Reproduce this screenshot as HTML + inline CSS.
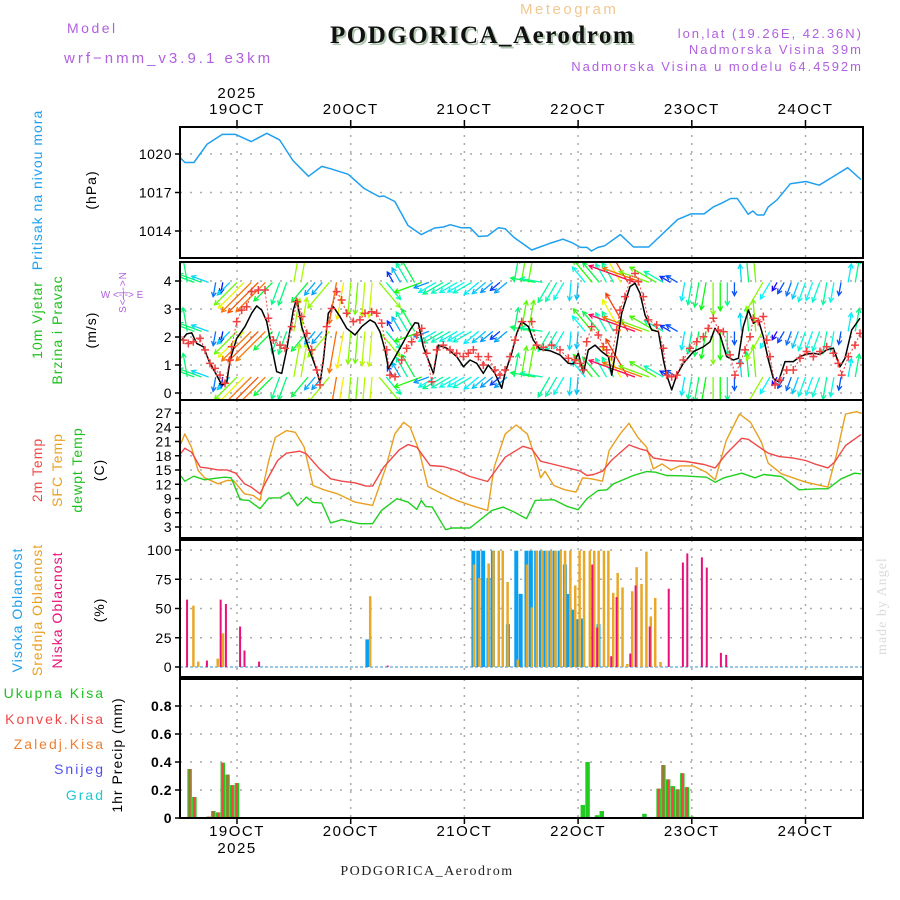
<!DOCTYPE html>
<html><head><meta charset="utf-8">
<style>
body{margin:0;background:#fff;}
svg{display:block;font-family:"Liberation Sans",sans-serif;}
.tk{font-size:14px;fill:#000;letter-spacing:0.5px}
</style></head>
<body>
<svg id="c" width="900" height="900" viewBox="0 0 900 900">
<rect width="900" height="900" fill="#fff"/>
<text x="67" y="33" font-size="14" fill="#b060e0" letter-spacing="2.5">Model</text>
<text x="64" y="63" font-size="15" fill="#b060e0" letter-spacing="3">wrf−nmm_v3.9.1 e3km</text>
<text x="520" y="14" font-size="15" fill="#f0c890" letter-spacing="2.5">Meteogram</text>
<text x="332" y="45" font-size="25" font-weight="bold" font-family="Liberation Serif, serif" fill="#b0c8b0" letter-spacing="1.5">PODGORICA_Aerodrom</text>
<text x="330" y="43" font-size="25" font-weight="bold" font-family="Liberation Serif, serif" fill="#111" letter-spacing="1.5">PODGORICA_Aerodrom</text>
<text x="863" y="38" font-size="13" fill="#b060e0" text-anchor="end" letter-spacing="2">lon,lat (19.26E, 42.36N)</text>
<text x="863" y="54" font-size="13" fill="#b060e0" text-anchor="end" letter-spacing="2">Nadmorska Visina 39m</text>
<text x="863" y="71" font-size="13" fill="#b060e0" text-anchor="end" letter-spacing="2">Nadmorska Visina u modelu 64.4592m</text>
<text x="237" y="98" font-size="15" text-anchor="middle" letter-spacing="1.5">2025</text>
<text x="427" y="875" font-size="14" font-family="Liberation Serif, serif" text-anchor="middle" fill="#222" letter-spacing="1.5">PODGORICA_Aerodrom</text>
<text x="237" y="853" font-size="15" text-anchor="middle" letter-spacing="1.5">2025</text>
<text transform="translate(886,655) rotate(-90)" font-size="14" font-family="Liberation Serif, serif" fill="#d8ddd8" letter-spacing="1">made by Angel</text>
</svg>
<script>
// ---------- DATA ----------
const dayLabels=["19OCT","20OCT","21OCT","22OCT","23OCT","24OCT"];
const presT=[-11.9,-11,-9.1,-6.3,-3.1,-0.3,3,6.3,9,11.8,15.1,17.9,19.8,23.5,26.8,30,31,33.3,36.1,38.9,41.7,43.6,45,47.3,49.2,51,52.9,55.2,56.6,58.5,62.2,66,68.8,70.6,72.5,73.9,74.8,76.2,77.6,80.9,83.7,86.9,93,95.8,98.6,100.5,102.3,104.2,105.6,107,107.9,108.9,109.8,111.2,112.1,114,116.8,120.1,122.9,125.2,128.9,131.7];
const presV=[1019.69,1019.34,1019.34,1020.77,1021.53,1021.53,1020.97,1021.61,1021.1,1019.49,1018.26,1019.03,1018.85,1018.42,1017.32,1016.68,1016.73,1016.3,1014.43,1013.72,1014.23,1014.31,1014.49,1014.26,1014.26,1013.57,1013.62,1014.26,1014.18,1013.49,1012.52,1013.03,1013.36,1013.11,1012.72,1012.72,1012.44,1012.72,1012.85,1013.72,1012.75,1012.75,1014.89,1015.33,1015.33,1015.86,1016.17,1016.53,1016.53,1015.79,1015.3,1015.56,1015.25,1015.25,1015.86,1016.43,1017.68,1017.86,1017.57,1018.09,1018.93,1018.01];
const presTicks=[1014,1017,1020];

const speedT=[-11.68,-10.62,-9.57,-8.51,-7.1,-5.7,-4.29,-3.24,-2.18,-1.48,-0.07,1.69,3.1,4.15,5.21,6.26,7.32,8.37,9.43,10.49,11.89,12.6,13.65,15.06,16.82,17.52,18.23,19.28,20.34,21.74,23.15,24.91,26.32,28.07,29.13,30.19,31.24,31.95,33,34.76,36.52,37.57,38.28,39.33,40.39,41.45,42.5,44.26,46.37,47.78,49.18,50.59,51.99,53.05,54.46,55.87,56.57,57.98,59.03,60.09,61.5,62.55,63.96,66.07,68.18,69.94,71,72.05,73.11,74.16,75.57,76.98,78.39,79.09,80.14,81.2,82.96,84.01,85.07,86.13,87.53,88.94,90,90.7,91.75,92.81,94.22,96.33,98.44,99.85,100.9,101.96,103.36,104.77,105.83,106.88,107.94,108.99,110.05,111.1,112.16,113.21,114.27,115.68,117.43,118.84,120.25,121.66,123.06,124.47,125.88,127.29,128.34,129.75,131.51];
const speedV=[1.89,2.11,2.15,1.77,1.65,1.06,0.64,0.29,0.35,1.18,1.95,2.37,2.85,3.11,2.96,2.55,1.65,0.76,0.7,1.54,2.96,3.38,2.37,1.65,0.82,0.35,1.18,2.85,3.08,2.73,2.31,2.07,2.37,2.61,2.51,2.19,1.54,0.88,1.18,1.71,2.25,2.51,2.49,1.65,1.18,0.7,1.71,1.6,1.3,0.94,1.18,1.06,0.7,1.0,0.7,0.17,0.7,1.42,2.13,2.55,2.37,1.89,1.56,1.51,1.36,1.06,1.04,1.42,0.7,1.54,1.71,1.48,1.3,0.64,1.71,2.85,3.8,3.92,3.56,2.79,2.25,2.19,1.18,0.64,0.11,0.64,1.06,1.48,1.65,1.83,2.31,2.07,1.3,1.18,1.24,2.37,2.96,2.49,2.61,2.01,1.18,0.52,0.4,1.12,1.12,1.3,1.39,1.42,1.38,1.54,1.6,0.94,1.24,2.25,2.67];
const gustT=[-11.33,-10.27,-9.22,-7.81,-6.75,-5.7,-4.64,-3.59,-2.53,-1.48,-1.12,-0.07,0.99,2.04,3.1,4.5,5.91,6.62,7.67,9.08,10.13,11.54,12.6,13.65,14.71,15.76,16.82,17.52,18.93,19.98,21.04,22.09,23.15,24.56,25.96,27.02,28.43,29.48,30.54,31.59,32.3,33.35,34.76,35.81,36.87,37.93,38.98,40.04,41.09,42.15,43.55,44.96,46.37,47.78,48.83,49.89,50.94,51.99,53.05,54.46,55.51,56.57,57.63,58.68,60.09,62.2,63.26,64.67,66.42,68.18,69.94,71.35,72.41,73.11,73.81,74.87,76.27,77.33,78.03,79.09,80.14,80.85,81.9,82.96,84.01,84.72,85.77,86.83,88.59,90,90.7,91.75,92.81,94.22,95.62,97.03,98.44,99.49,100.55,101.6,102.66,104.07,105.12,106.18,107.23,108.29,108.99,110.05,111.1,111.81,112.51,113.57,114.62,116.03,117.43,118.84,120.25,121.66,123.06,124.47,125.88,126.93,127.64,129.04,130.45,131.51];
const gustV=[1.89,1.77,1.83,1.95,1.54,1.06,0.88,0.64,0.35,1.18,1.65,2.55,2.96,3.08,3.62,3.68,3.68,2.67,1.89,1.71,1.6,2.37,3.26,2.73,2.13,1.54,0.82,0.29,2.37,3.02,3.62,3.32,2.85,2.55,2.61,2.85,2.9,2.85,2.49,1.54,0.64,0.58,1.18,1.6,1.83,2.07,2.31,1.42,0.4,1.54,1.71,1.54,1.42,1.3,1.42,1.54,1.3,1.0,1.3,0.82,0.64,0.82,1.3,1.89,2.55,2.55,1.71,1.63,1.71,1.54,1.24,1.18,1.06,0.82,1.83,2.37,2.07,1.65,1.54,1.3,2.25,2.96,3.44,4.04,4.27,3.98,3.44,2.61,2.43,1.6,0.64,0.58,0.64,1.18,1.6,1.83,2.01,2.31,2.67,2.25,2.19,1.36,0.64,1.06,1.54,2.01,2.67,2.55,2.73,1.89,1.3,0.29,0.46,0.82,0.82,1.24,1.48,1.3,1.48,1.65,1.42,1.06,0.64,1.3,1.71,2.13];
const windDirT=[-12,-9,-5,-2,8,11,14,20,24,30,33,38,42,50,58,62,66,70,73,78,84,88,94,100,106,110,116,124,128,133];
const windDir=[350,290,190,225,200,10,220,190,185,140,330,250,240,230,10,280,210,185,320,330,290,300,190,180,355,210,200,190,10,10];
const windTicks=[0,1,2,3,4];

const t2T=[-11.94,-11.01,-9.61,-7.75,-6.35,-4.01,-2.15,-0.28,1.58,2.98,4.85,6.25,8.58,10.44,13.24,14.64,17.44,19.77,22.11,24.9,27.24,28.63,30.97,34.23,36.1,37.96,40.76,43.56,46.36,49.16,52.89,56.62,60.35,62.22,64.08,67.81,71.55,72.48,73.88,75.28,77.14,79.01,82.74,85.07,86.47,87.87,91.13,94.87,98.6,100.93,103.26,106.53,107.93,109.79,112.12,114.46,117.26,120.05,121.92,124.72,126.12,128.45,131.71];
const t2V=[18.39,19.58,18.74,15.59,15.45,15.03,15.03,14.33,12.09,11.39,9.99,12.79,16.99,18.53,18.95,18.39,15.24,13.14,12.65,12.3,11.6,11.6,15.59,19.23,20.35,19.79,15.94,15.73,14.89,13.63,12.58,17.69,20.0,19.44,16.85,15.94,15.03,14.75,13.84,14.05,14.75,16.99,20.28,19.44,19.09,17.55,16.99,16.78,16.15,15.45,18.39,21.68,21.47,20.14,18.53,17.83,17.55,16.99,16.29,15.45,16.64,20.14,22.45];
const sfcT=[-11.94,-11.01,-9.61,-8.21,-6.81,-4.01,-2.15,-0.75,1.58,3.45,4.85,6.71,8.11,10.44,12.31,14.18,16.04,18.37,21.17,24.9,28.63,31.43,33.3,35.16,36.56,38.43,40.3,42.63,46.36,50.09,52.89,54.29,56.62,58.95,61.28,63.15,64.08,65.01,66.88,69.21,71.55,72.94,74.81,77.14,78.54,80.87,82.74,84.61,86.47,87.87,89.73,91.6,93.47,96.27,99.06,100.93,103.26,106.06,108.39,110.72,112.12,114.92,120.05,124.72,126.58,128.45,130.78,131.71];
const sfcV=[20.28,22.59,19.79,14.89,13.35,12.09,12.79,12.79,9.99,9.64,8.59,16.99,21.89,23.29,22.94,19.79,11.74,10.83,9.99,8.24,7.54,15.59,22.59,25.04,23.99,19.09,11.53,10.34,8.59,7.34,6.5,15.59,22.59,24.48,22.59,16.99,13.35,14.75,11.74,10.83,10.34,13.35,13.14,12.65,19.09,22.59,24.83,21.89,19.79,15.24,16.29,15.03,15.87,15.87,14.54,12.93,21.19,26.79,25.04,20.84,16.43,14.19,12.44,11.39,18.39,26.79,27.28,26.93];
const dewT=[-11.94,-11.01,-9.14,-6.81,-5.41,-2.61,-1.22,0.65,2.52,4.85,6.71,9.04,10.91,12.78,14.64,16.04,17.91,19.77,22.11,25.84,28.63,30.5,33.76,36.1,37.96,38.9,39.83,41.23,44.03,45.43,49.16,53.82,56.16,58.49,61.1,62.96,66.88,69.68,72.01,73.88,76.21,78.07,79.47,83.67,86.47,88.34,90.67,93.94,99.06,100.93,102.8,106.53,109.33,111.19,114.92,118.65,122.38,124.72,127.52,130.32,131.71];
const dewV=[13.84,12.65,13.7,12.93,13.14,13.49,13.35,8.74,8.6,6.85,9.08,9.15,10.27,7.48,9.29,8.17,8.03,3.84,4.54,3.7,3.7,6.5,8.95,8.25,6.71,8.6,7.34,7.2,2.44,2.79,2.79,6.5,7.2,6.15,4.75,8.6,8.74,7.34,6.64,8.95,10.69,10.83,12.09,13.84,14.68,14.54,13.84,13.77,13.49,12.44,13.35,14.33,13.35,14.05,13.63,10.83,11.04,11.04,13.14,14.33,14.19];
const tempTicks=[3,6,9,12,15,18,21,24,27];

const lowCloudT=[-10.54,-6.35,-3.45,-2.34,0.65,1.58,4.66,31.81,75.0,76.02,79.0,80.13,83.02,84.14,87.12,91.13,94.12,95.05,98.13,99.16,102.14,103.26];
const lowCloudV=[57.6,5.5,57.6,53.9,34.6,14.1,4.6,1.2,87.6,33.7,9.2,59.7,11.5,69.7,34.6,66.9,89.3,97.1,93.7,85.0,12.1,10.4];
const midCloudT=[-9.52,-8.49,-4.39,-3.27,27.8,49.72,50.84,52.8,53.82,54.94,55.78,56.8,58.95,60.91,61.94,62.96,64.08,65.01,65.95,66.88,67.99,68.93,70.05,71.08,72.0,72.94,74.16,75.09,76.02,77.14,78.07,79.1,80.03,81.06,82.08,83.11,84.04,85.07,86.1,87.03,87.96,89.08];
const midCloudV=[52.4,4.6,7.2,28.8,60.5,87.6,76.1,88.5,99.4,99.4,99.4,72.6,6.3,87.6,51.0,99.4,99.4,99.4,99.4,99.4,99.4,99.4,99.4,69.7,99.4,99.4,99.4,99.4,99.4,99.4,99.4,63.4,80.4,68.0,2.6,64.8,85.3,70.9,98.6,43.2,59.0,4.3];
const highCloudT=[27.52,49.9,50.93,51.96,53.08,54.01,57.18,58.95,59.88,61.1,62.03,63.15,64.17,65.11,66.13,67.07,68.09,69.21,69.87,70.8,71.92,73.04,76.3];
const highCloudV=[23.6,99.4,99.4,99.4,76.1,99.4,36.6,99.4,62.5,99.4,99.4,99.4,99.4,99.4,99.4,99.4,99.4,87.6,62.5,49.0,40.9,41.5,36.6];
const cloudTicks=[0,25,50,75,100];

const precipT=[-10,-9,-6,-5,-4,-3,-2,-1,0,73,74,76,77,86,89,90,91,92,93,94,95,96];
const precipTotal=[0.35,0.15,0.01,0.05,0.04,0.395,0.31,0.235,0.25,0.093,0.40,0.02,0.05,0.03,0.21,0.378,0.276,0.228,0.205,0.32,0.22,0.01];
const precipConv=[0.35,0.15,0.01,0.05,0.04,0.395,0.31,0.235,0.25,0,0,0,0,0,0.21,0.378,0.276,0.22,0.205,0.32,0.22,0];
const precipTicks=[0,0.2,0.4,0.6,0.8];

// ---------- DRAW ----------
const svg=document.getElementById('c');
const NS='http://www.w3.org/2000/svg';
const X0=180,X1=863;
function xs(t){return 237+t*113.7/24;}
function mk(tag,attrs,parent){const e=document.createElementNS(NS,tag);for(const k in attrs)e.setAttribute(k,attrs[k]);(parent||svg).appendChild(e);return e;}
function lin(v0,v1,y0,y1){return v=>y0+(v-v0)*(y1-y0)/(v1-v0);}
const panels={
 pres:{top:127,bot:258,y:lin(1020,1014,154,231)},
 wind:{top:262,bot:400,y:lin(0,4,393,281)},
 temp:{top:400,bot:538,y:lin(27,3,413,527)},
 cloud:{top:540,bot:677,y:lin(100,0,550,667)},
 prec:{top:679,bot:818,y:lin(0,0.8,818,706)}
};
function grid(p,ticks,fmt,name){
 const g=mk('g',{});
 
 
 for(let d=0;d<dayLabels.length;d++){
  const x=xs(d*24);
  const l=mk('line',{x1:x,x2:x,y1:p.top,y2:p.bot,stroke:'#aaa','stroke-width':1.5,'stroke-dasharray':'2,6'},g);
  
  
 }
 ticks.forEach(v=>{
  const y=p.y(v);
  const l=mk('line',{x1:X0,x2:X1,y1:y,y2:y,stroke:'#aaa','stroke-width':1.5,'stroke-dasharray':'2,8'},g);
  
  
  mk('line',{x1:X0-5,x2:X0,y1:y,y2:y,stroke:'#000','stroke-width':1.5},g);
  const tx=mk('text',{x:X0-8,y:y+5,'text-anchor':'end','class':'tk','font-weight':name==='precip'?'bold':'normal'},g);
  tx.textContent=fmt(v);
  
  
 });
}
function frame(p,name){
 const r=mk('rect',{x:X0,y:p.top,width:X1-X0,height:p.bot-p.top,fill:'none',stroke:'#000','stroke-width':2});
 
 
}
function clip(p,id){const c=mk('clipPath',{id:id});mk('rect',{x:X0,y:p.top,width:X1-X0,height:p.bot-p.top},c);return 'url(#'+id+')';}
function line(p,T,V,color,name,w){
 const d=T.map((t,i)=>(i?'L':'M')+xs(t).toFixed(1)+','+p.y(V[i]).toFixed(1)).join('');
 const e=mk('path',{d:d,fill:'none',stroke:color,'stroke-width':w||1.5,'stroke-linejoin':'round'});
 
 
 return e;
}
function interp(T,V,t){if(t<=T[0])return V[0];for(let i=1;i<T.length;i++){if(t<=T[i]){const f=(t-T[i-1])/(T[i]-T[i-1]);return V[i-1]+f*(V[i]-V[i-1]);}}return V[V.length-1];}
function dirAt(t){let d=windDir[0];for(let i=0;i<windDirT.length;i++){if(t>=windDirT[i])d=windDir[i];}return d;}

dayLabels.forEach((lab,i)=>{
 const x=xs(i*24);
 const a=mk('text',{x:x,y:114,'text-anchor':'middle','font-size':15,'letter-spacing':1.5});a.textContent=lab;
 
 
 const b=mk('text',{x:x,y:836,'text-anchor':'middle','font-size':15,'letter-spacing':1.5});b.textContent=lab;
 
 
 mk('line',{x1:x,x2:x,y1:120,y2:127,stroke:'#000','stroke-width':1.5});
 mk('line',{x1:x,x2:x,y1:818,y2:824,stroke:'#000','stroke-width':1.5});
});

// pressure
grid(panels.pres,presTicks,v=>v,'pressure');
line(panels.pres,presT,presV,'#1ea0f0','pressure-line',1.5);
frame(panels.pres,'pressure');

// wind
grid(panels.wind,windTicks,v=>v,'wind');
const wg=mk('g',{'clip-path':clip(panels.wind,'cw')});


const rows=[3.95,2.2,0.57];
for(let t=-12;t<=132;t+=1.5){
 const sp=interp(gustT,gustV,t);
 const dir=dirAt(t)*Math.PI/180;
 const len=6+sp*10;
 const hue=Math.max(-30,270-sp*68);
 const col='hsl('+((hue+360)%360)+',95%,50%)';
 rows.forEach(r=>{
  const x=xs(t),y=panels.wind.y(r);
  const x2=x+Math.sin(dir)*len,y2=y-Math.cos(dir)*len;
  const a=mk('line',{x1:x,y1:y,x2:x2,y2:y2,stroke:col,'stroke-width':1.3},wg);
  
  
  const ang=Math.atan2(y2-y,x2-x);
  mk('path',{d:'M'+(x2-5*Math.cos(ang-0.5))+','+(y2-5*Math.sin(ang-0.5))+'L'+x2+','+y2+'L'+(x2-5*Math.cos(ang+0.5))+','+(y2-5*Math.sin(ang+0.5)),fill:'none',stroke:col,'stroke-width':1.3},wg);
 });
}
line(panels.wind,speedT,speedV,'#000','wind-speed-line',1.5).setAttribute('clip-path','url(#cw)');
const gg=mk('g',{'clip-path':'url(#cw)'});


line(panels.wind,gustT,gustV,'#f04040','wind-gust-line',1).setAttribute('stroke-dasharray','2,2');
gustT.forEach((t,i)=>{
 const x=xs(t),y=panels.wind.y(gustV[i]);
 const p=mk('path',{d:`M${x-4},${y}H${x+4}M${x},${y-4}V${y+4}`,stroke:'#f04040','stroke-width':1.5},gg);
 
 
});
frame(panels.wind,'wind');

// temperature
grid(panels.temp,tempTicks,v=>v,'temperature');
line(panels.temp,sfcT,sfcV,'#e8a020','sfc-temp-line',1.4);
line(panels.temp,t2T,t2V,'#f04848','temp-2m-line',1.4);
line(panels.temp,dewT,dewV,'#20d020','dewpoint-line',1.4);
frame(panels.temp,'temperature');

// cloud
grid(panels.cloud,cloudTicks,v=>v,'cloud');
mk('line',{x1:X0,x2:X1,y1:panels.cloud.y(0),y2:panels.cloud.y(0),stroke:'#9cc8e8','stroke-width':2,'stroke-dasharray':'3,2'});
function bars(T,V,color,w,name,p,off){
 T.forEach((t,i)=>{
  const x=xs(t)+(off||0),y=p.y(V[i]),y0=p.y(0);
  const r=mk('rect',{x:x-w/2,y:y,width:w,height:Math.max(0,y0-y),fill:color});
  
  
 });
}
bars(highCloudT,highCloudV,'#0aa0f0',4,'high-cloud-bar',panels.cloud,0);
bars(midCloudT,midCloudV,'#e8a828',2.5,'mid-cloud-bar',panels.cloud,1.5);
bars(lowCloudT,lowCloudV,'#e8107a',2,'low-cloud-bar',panels.cloud,0);
const cf=mk('rect',{x:X0,y:panels.cloud.top,width:X1-X0,height:panels.cloud.bot-panels.cloud.top,fill:'none',stroke:'#000','stroke-width':2});



// precip
grid(panels.prec,precipTicks,v=>v===0?'0':v.toFixed(1),'precip');
bars(precipT,precipTotal,'#20cc20',4.5,'total-precip-bar',panels.prec,0);
bars(precipT,precipConv,'#f04848',2,'convective-precip-bar',panels.prec,0);
frame(panels.prec,'precip');

// side labels
function vlab(x,y,txt,color,size,name){
 const e=mk('text',{transform:`translate(${x},${y}) rotate(-90)`,'text-anchor':'middle','font-size':size||14,fill:color,'letter-spacing':1});
 e.textContent=txt;
 
 
}
vlab(42,190,'Pritisak na nivou mora','#1ea0f0',14,'pressure-title');
vlab(96,190,'(hPa)','#000',14,'pressure-unit');
vlab(42,320,'10m Vjetar','#20c020',14,'wind-title-1');
vlab(62,330,'Brzina i Pravac','#20c020',14,'wind-title-2');
vlab(96,330,'(m/s)','#000',14,'wind-unit');
vlab(126,292,'S<-|->N','#b060e0',10,'wind-compass-ns');
const cw=mk('text',{x:122,y:298,'text-anchor':'middle','font-size':10,fill:'#b060e0'});cw.textContent='W   <-|->   E';


vlab(42,470,'2m Temp','#f04848',14,'temp-2m-title');
vlab(62,470,'SFC Temp','#e8a020',14,'sfc-temp-title');
vlab(82,470,'dewpt Temp','#20c020',14,'dewpoint-title');
vlab(104,470,'(C)','#000',14,'temp-unit');
vlab(22,610,'Visoka Oblacnost','#1ea0f0',14,'high-cloud-title');
vlab(42,610,'Srednja Oblacnost','#e8a020',14,'mid-cloud-title');
vlab(62,610,'Niska Oblacnost','#e8107a',14,'low-cloud-title');
vlab(104,610,'(%)','#000',14,'cloud-unit');
vlab(122,755,'1hr Precip (mm)','#000',14,'precip-title');
[['Ukupna Kisa','#20c020',698],['Konvek.Kisa','#f04848',724],['Zaledj.Kisa','#f08030',749],['Snijeg','#5050f0',774],['Grad','#20c8d0',800]].forEach(a=>{
 const e=mk('text',{x:105,y:a[2],'text-anchor':'end','font-size':14,fill:a[1],'letter-spacing':2});
 e.textContent=a[0];
 
 
});
</script>
</body></html>
